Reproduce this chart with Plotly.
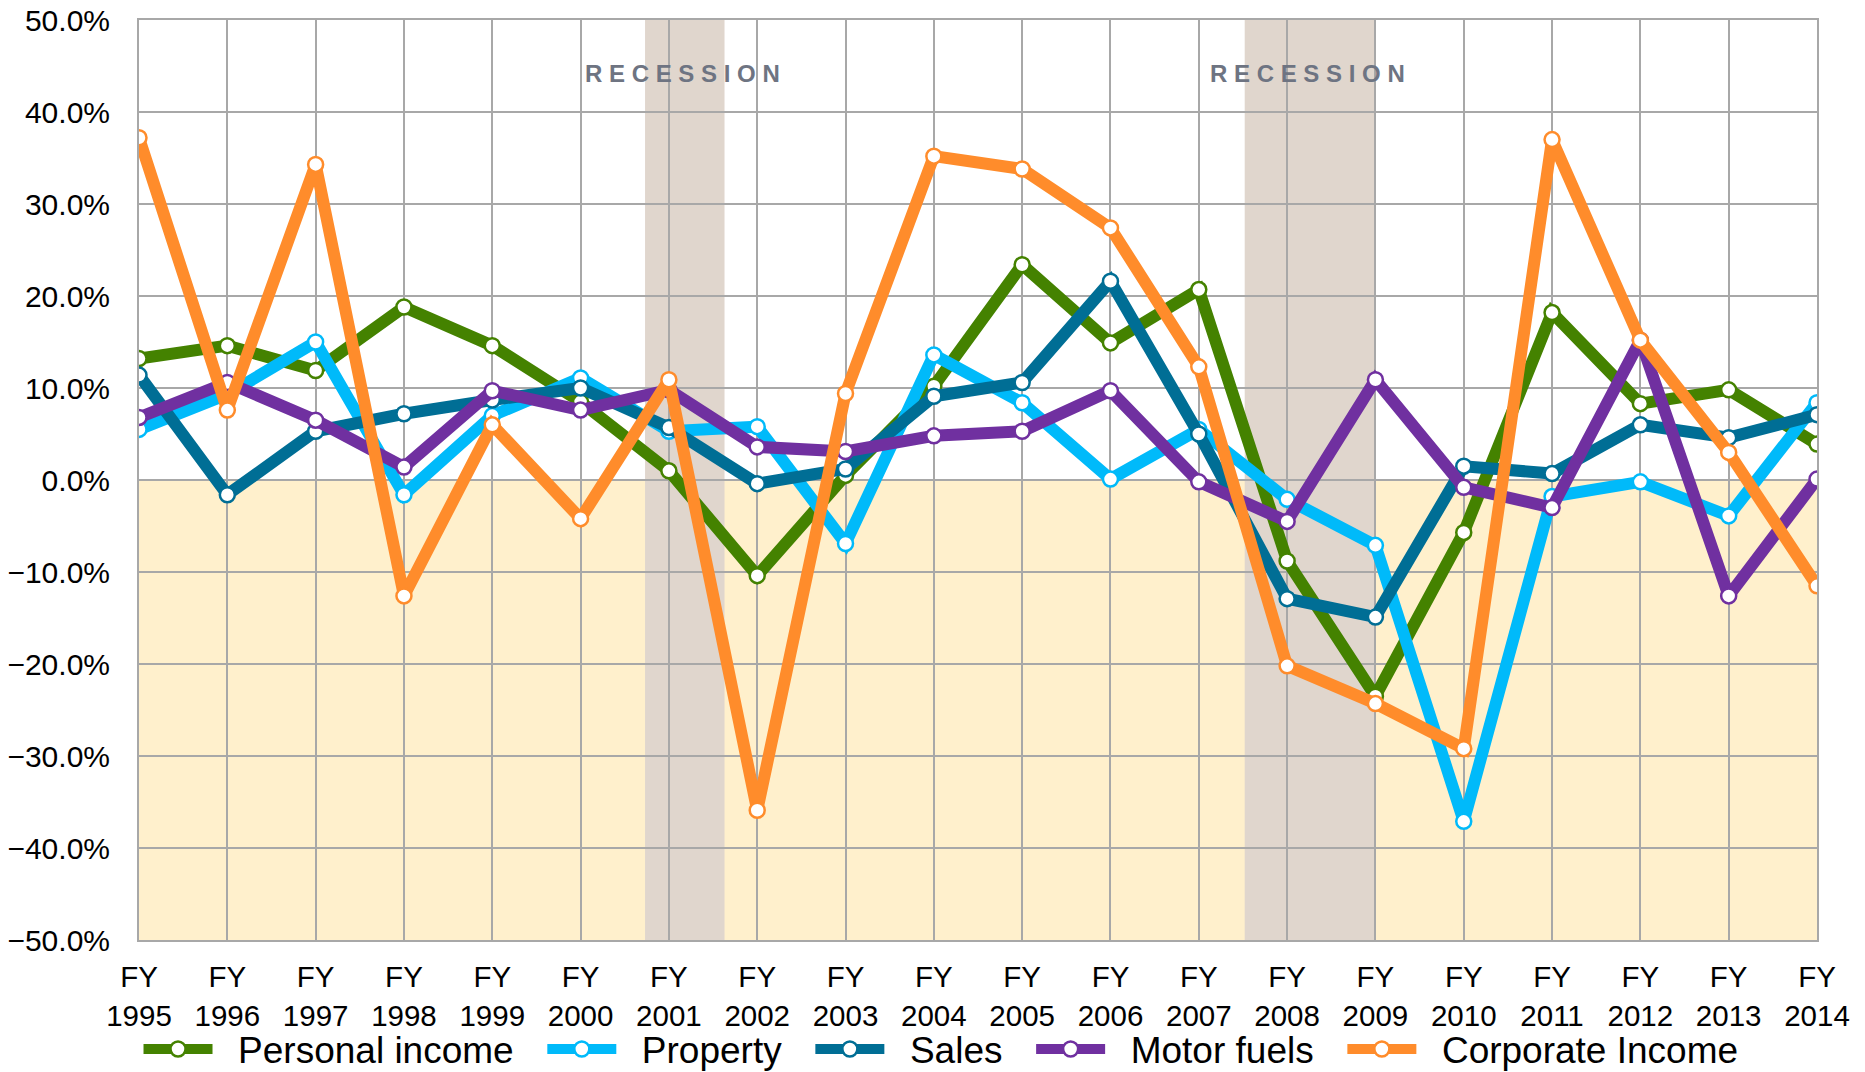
import plotly.graph_objects as go

fiscal_years = [1995, 1996, 1997, 1998, 1999, 2000, 2001, 2002, 2003, 2004,
                2005, 2006, 2007, 2008, 2009, 2010, 2011, 2012, 2013, 2014]
tick_labels = [f"FY<br>{y}" for y in fiscal_years]

personal_income = [13.2, 14.6, 11.9, 18.8, 14.6, 8.5, 1.0, -10.4, 0.5, 10.2,
                   23.4, 14.9, 20.7, -8.8, -23.5, -5.7, 18.2, 8.3, 9.8, 3.9]
property_tax = [5.5, 9.3, 15.0, -1.6, 7.0, 11.1, 5.3, 5.8, -6.9, 13.6,
                8.4, 0.1, 5.5, -2.1, -7.1, -37.1, -1.8, -0.2, -3.9, 8.4]
sales = [11.4, -1.6, 5.3, 7.2, 8.7, 10.0, 5.7, -0.4, 1.2, 9.1,
         10.6, 21.6, 5.0, -12.9, -14.9, 1.5, 0.7, 6.0, 4.6, 7.1]
motor_fuels = [6.8, 10.6, 6.5, 1.4, 9.7, 7.6, 9.8, 3.6, 3.1, 4.8,
               5.3, 9.7, -0.2, -4.5, 10.9, -0.8, -3.0, 15.2, -12.6, 0.1]
corporate_income = [37.2, 7.6, 34.3, -12.6, 6.0, -4.2, 10.9, -35.9, 9.4, 35.2,
                    33.8, 27.4, 12.3, -20.2, -24.3, -29.2, 37.0, 15.2, 3.0, -11.5]

series_names = ["Personal income", "Property", "Sales", "Motor fuels", "Corporate Income"]
series_values = [personal_income, property_tax, sales, motor_fuels, corporate_income]
series_colors = ["#448200", "#00BAFA", "#006E95", "#7030A0", "#FF8C2B"]

recessions = [(5.73, 6.63), (12.52, 14.0)]
recession_label_x = [6.15, 13.23]
recession_label = "R E C E S S I O N"

FONT = "Liberation Sans, Arial, sans-serif"
GRID = "#A8A8A8"
LEAD = "\u00a0\u00a0"
TRAIL = "\u00a0\u00a0\u200a"

fig = go.Figure()
for name, vals, col in zip(series_names, series_values, series_colors):
    fig.add_trace(go.Scatter(
        x=tick_labels, y=vals, name=LEAD + name + TRAIL, mode="lines+markers",
        line=dict(color=col, width=12),
        marker=dict(size=15, color="white", line=dict(color=col, width=2.5)),
    ))

shapes = [dict(type="rect", xref="x", yref="y", x0=0, x1=19, y0=-50, y1=0,
               fillcolor="#FFF0CC", line=dict(width=0), layer="below")]
for x0, x1 in recessions:
    shapes.append(dict(type="rect", xref="x", yref="y", x0=x0, x1=x1, y0=-50, y1=50,
                       fillcolor="#E0D6CD", line=dict(width=0), layer="below"))

annotations = [dict(x=xp, y=44.2, xref="x", yref="y", text=f"<b>{recession_label}</b>",
                    showarrow=False, font=dict(family=FONT, size=24, color="#6E7482"))
               for xp in recession_label_x]

fig.update_layout(
    template="none",
    width=1865, height=1072,
    margin=dict(l=139, r=48, t=20, b=132, pad=0),
    paper_bgcolor="white", plot_bgcolor="white",
    font=dict(family=FONT, size=30, color="black"),
    shapes=shapes, annotations=annotations,
    showlegend=True,
    legend=dict(orientation="h", xref="container", yref="container",
                x=0.511, xanchor="center", y=0.021, yanchor="middle",
                font=dict(family=FONT, size=37, color="black"),
                itemwidth=69, bgcolor="rgba(0,0,0,0)"),
    xaxis=dict(type="category", range=[0, 19], automargin=False,
               showgrid=True, gridcolor=GRID, gridwidth=2,
               showline=True, linecolor=GRID, linewidth=2, mirror=True,
               ticks="", tickfont=dict(family=FONT, size=29.5), ticklabelstandoff=10,
               ticklabeloverflow="allow"),
    yaxis=dict(range=[-50, 50], dtick=10, tickformat=".1f", ticksuffix="%", automargin=False,
               showgrid=True, gridcolor=GRID, gridwidth=2,
               zeroline=True, zerolinecolor=GRID, zerolinewidth=2,
               showline=True, linecolor=GRID, linewidth=2, mirror=True,
               ticks="", tickfont=dict(family=FONT, size=30), ticklabelstandoff=21,
               ticklabeloverflow="allow"),
)

fig.write_html("out.html", config={"displayModeBar": False},
               post_script="document.body.style.margin='0';")
